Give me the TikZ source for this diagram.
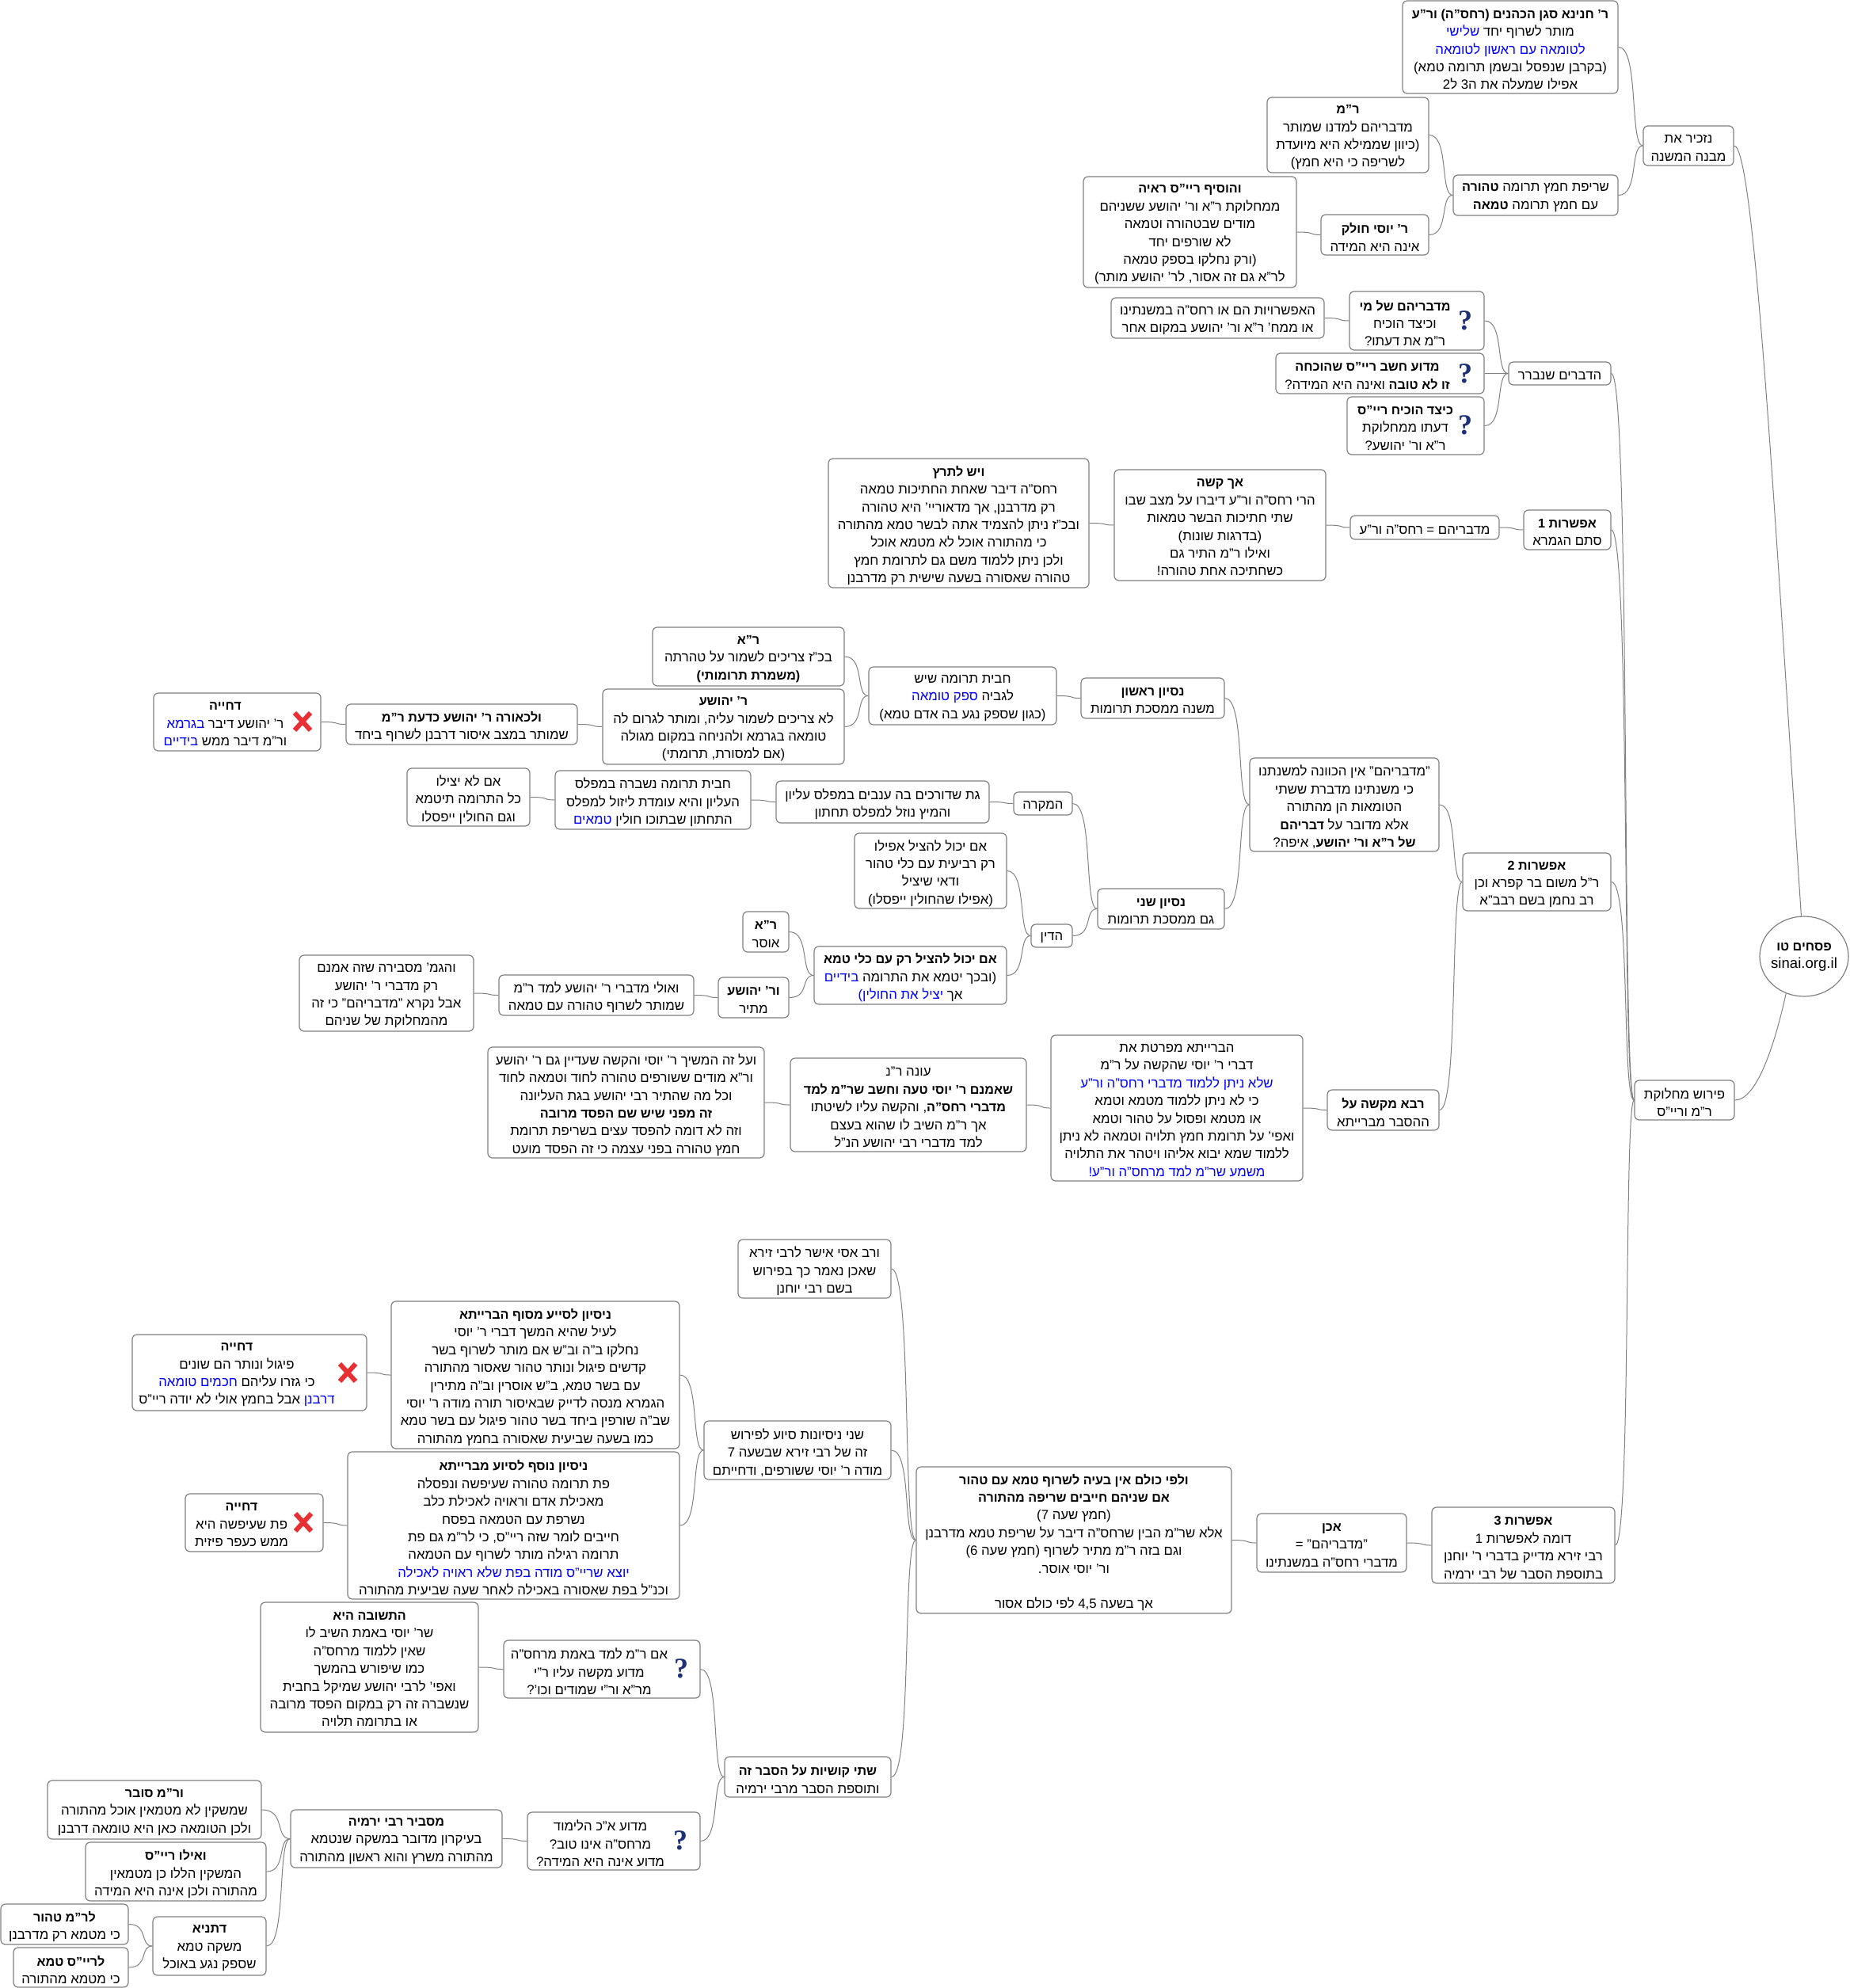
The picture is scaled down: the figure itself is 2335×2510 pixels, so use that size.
\documentclass[tikz,border=0pt]{standalone}
\usepackage{fontspec}
\usepackage{xcolor}
\usetikzlibrary{calc,shapes.geometric}
\setmainfont[Script=Hebrew,BoldFeatures={Scale=0.96}]{Liberation Sans}
\newfontfamily\qmarkfont{Liberation Serif}
\TeXXeTstate=1
\definecolor{qblue}{RGB}{28,48,120}
\definecolor{xred}{RGB}{232,48,52}
\newcommand{\rl}[1]{\beginR#1\endR}
% the list gets reversed on output, so pop comes first
\newcommand{\blu}[1]{\special{color pop}#1\special{color push rgb 0 0 1}}
\newcommand{\iconbox}[7]{\node[mapnode,minimum width={(#4-#2)*1pt},minimum height={(#5-#3)*1pt}] (#1) at ({(#2+#4)/2},{(#3+#5)/2}) {};
	\node[maptext] (#1t) at ([xshift=#6pt,yshift=-3pt]#1.center) {#7};}
\newcommand{\mapbox}[6]{\iconbox{#1}{#2}{#3}{#4}{#5}{0}{#6}}
\tikzset{
	mapnode/.style={draw=black!50,fill=white,line width=1.2pt,rounded corners=6pt,inner sep=0pt},
	maptext/.style={inner sep=0pt,align=center,font=\fontsize{16.8}{22.4}\selectfont},
	qmark/.style={inner sep=0pt,text=qblue,font=\qmarkfont\bfseries\fontsize{36}{36}\selectfont},
	crossmark/.style={draw=xred,line width=6pt},
	link/.style={draw=black!50,line width=1pt}
}
\begin{document}
\begin{tikzpicture}[x=1pt,y=-1pt]
	\useasboundingbox (0,0) rectangle (2335,2510);

	\node[draw=black!50,fill=white,line width=1.2pt,ellipse,inner sep=0pt,minimum width=112pt,minimum height=101pt] (root) at (2278,1207.5) {};
	\node[maptext] (roott) at ([yshift=-1pt]root.center) {\rl{\textbf{פסחים טו}}\\{\fontsize{18.6}{22.4}\selectfont sinai.org.il}};

	% top branch
	\mapbox{mivne}{2075}{159}{2189}{209}{\rl{נזכיר את}\\\rl{מבנה המשנה}}
	\mapbox{chanina}{1771}{1}{2043}{118}{\rl{\textbf{ר' חנינא סגן הכהנים (רחס"ה) ור"ע}}\\\rl{מותר לשרוף יחד \blu{שלישי}}\\\rl{\blu{לטומאה עם ראשון לטומאה}}\\\rl{(בקרבן שנפסל ובשמן תרומה טמא)}\\\rl{אפילו שמעלה את ה3 ל2}}
	\mapbox{sreifa}{1835}{221}{2043}{272}{\rl{שריפת חמץ תרומה \textbf{טהורה}}\\\rl{עם חמץ תרומה \textbf{טמאה}}}
	\mapbox{rmeir}{1600}{123}{1804}{218}{\rl{\textbf{ר"מ}}\\\rl{מדבריהם למדנו שמותר}\\\rl{(כיוון שממילא היא מיועדת}\\\rl{לשריפה כי היא חמץ)}}
	\mapbox{yosi}{1668}{271}{1804}{322}{\rl{\textbf{ר' יוסי חולק}}\\\rl{אינה היא המידה}}
	\mapbox{raaya}{1368}{223}{1637}{363}{\rl{\textbf{והוסיף ריי"ס ראיה}}\\\rl{ממחלוקת ר"א ור' יהושע ששניהם}\\\rl{מודים שבטהורה וטמאה}\\\rl{לא שורפים יחד}\\\rl{(ורק נחלקו בספק טמאה}\\\rl{לר"א גם זה אסור, לר' יהושע מותר)}}

	% the things to clarify
	\mapbox{devarim}{1905}{457}{2034}{486}{\rl{הדברים שנברר}}
	\iconbox{shelmi}{1704}{368}{1874}{442}{-15}{\rl{\textbf{מדבריהם של מי}}\\\rl{וכיצד הוכיח}\\\rl{ר"מ את דעתו?}}
	\mapbox{efsharuyot}{1403}{376}{1672}{427}{\rl{האפשרויות הם או רחס"ה במשנתינו}\\\rl{או ממח' ר"א ור' יהושע במקום אחר}}
	\iconbox{madua}{1611}{446}{1874}{497}{-16}{\rl{\textbf{מדוע חשב ריי"ס שהוכחה}}\\\rl{\textbf{זו לא טובה} ואינה היא המידה?}}
	\iconbox{keitzad}{1701}{501}{1874}{574}{-13}{\rl{\textbf{כיצד הוכיח ריי"ס}}\\\rl{דעתו ממחלוקת}\\\rl{ר"א ור' יהושע?}}
	\node[qmark] (shelmiq) at (1850,405) {?};
	\node[qmark] (maduaq) at (1850,472) {?};
	\node[qmark] (keitzadq) at (1850,537) {?};

	% option 1
	\mapbox{opta}{1924}{644}{2034}{694}{\rl{\textbf{אפשרות 1}}\\\rl{סתם הגמרא}}
	\mapbox{midabera}{1705}{651}{1893}{681}{\rl{מדבריהם = רחס"ה ור"ע}}
	\mapbox{akhkashe}{1407}{593}{1674}{733}{\rl{\textbf{אך קשה}}\\\rl{הרי רחס"ה ור"ע דיברו על מצב שבו}\\\rl{שתי חתיכות הבשר טמאות}\\\rl{(בדרגות שונות)}\\\rl{ואילו ר"מ התיר גם}\\\rl{כשחתיכה אחת טהורה!}}
	\mapbox{letaretz}{1046}{579}{1375}{742}{\rl{\textbf{ויש לתרץ}}\\\rl{רחס"ה דיבר שאחת החתיכות טמאה}\\\rl{רק מדרבנן, אך מדאוריי' היא טהורה}\\\rl{ובכ"ז ניתן להצמיד אתה לבשר טמא מהתורה}\\\rl{כי מהתורה אוכל לא מטמא אוכל}\\\rl{ולכן ניתן ללמוד משם גם לתרומת חמץ}\\\rl{טהורה שאסורה בשעה שישית רק מדרבנן}}

	% option 2
	\mapbox{optb}{1847}{1077}{2034}{1150}{\rl{\textbf{אפשרות 2}}\\\rl{ר"ל משום בר קפרא וכן}\\\rl{רב נחמן בשם רבב"א}}
	\mapbox{kavana}{1578}{957}{1817}{1075}{\rl{"מדבריהם" אין הכוונה למשנתנו}\\\rl{כי משנתינו מדברת ששתי}\\\rl{הטומאות הן מהתורה}\\\rl{אלא מדובר על \textbf{דבריהם}}\\\rl{\textbf{של ר"א ור' יהושע}, איפה?}}
	\mapbox{nisayona}{1365}{856}{1546}{907}{\rl{\textbf{נסיון ראשון}}\\\rl{משנה ממסכת תרומות}}
	\mapbox{chavit}{1097}{842}{1334}{915}{\rl{חבית תרומה שיש}\\\rl{לגביה \blu{ספק טומאה}}\\\rl{(כגון שספק נגע בה אדם טמא)}}
	\mapbox{reliezer}{824}{792}{1066}{866}{\rl{\textbf{ר"א}}\\\rl{בכ"ז צריכים לשמור על טהרתה}\\\rl{\textbf{(משמרת תרומותי)}}}
	\mapbox{ryehoshua}{761}{870}{1066}{965}{\rl{\textbf{ר' יהושע}}\\\rl{לא צריכים לשמור עליה, ומותר לגרום לה}\\\rl{טומאה בגרמא ולהניחה במקום מגולה}\\\rl{(אם למסורת, תרומתי)}}
	\mapbox{lichora}{437}{889}{729}{940}{\rl{\textbf{ולכאורה ר' יהושע כדעת ר"מ}}\\\rl{שמותר במצב איסור דרבנן לשרוף ביחד}}
	\iconbox{dchiyaa}{194}{875}{405}{948}{-15}{\rl{\textbf{דחייה}}\\\rl{ר' יהושע דיבר \blu{בגרמא}}\\\rl{ור"מ דיבר ממש \blu{בידיים}}}
	\mapbox{nisayonb}{1386}{1122}{1546}{1173}{\rl{\textbf{נסיון שני}}\\\rl{גם ממסכת תרומות}}
	\mapbox{mikre}{1280}{1000}{1354}{1029}{\rl{המקרה}}
	\mapbox{gat}{980}{986}{1249}{1039}{\rl{גת שדורכים בה ענבים במפלס עליון}\\\rl{והמיץ נוזל למפלס תחתון}}
	\mapbox{nishbera}{701}{973}{948}{1047}{\rl{חבית תרומה נשברה במפלס}\\\rl{העליון והיא עומדת ליזול למפלס}\\\rl{התחתון שבתוכו חולין \blu{טמאים}}}
	\mapbox{yatzilu}{514}{970}{669}{1043}{\rl{אם לא יצילו}\\\rl{כל התרומה תיטמא}\\\rl{וגם החולין ייפסלו}}
	\mapbox{din}{1302}{1167}{1354}{1196}{\rl{הדין}}
	\mapbox{revi}{1079}{1052}{1271}{1147}{\rl{אם יכול להציל אפילו}\\\rl{רק רביעית עם כלי טהור}\\\rl{ודאי שיציל}\\\rl{(אפילו שהחולין ייפסלו)}}
	\mapbox{klitame}{1028}{1195}{1271}{1268}{\rl{\textbf{אם יכול להציל רק עם כלי טמא}}\\\rl{(ובכך יטמא את התרומה \blu{בידיים}}\\\rl{אך \blu{יציל את החולין)}}}
	\mapbox{oser}{938}{1151}{996}{1202}{\rl{\textbf{ר"א}}\\\rl{אוסר}}
	\mapbox{matir}{907}{1234}{996}{1285}{\rl{\textbf{ור' יהושע}}\\\rl{מתיר}}
	\mapbox{ulai}{630}{1231}{876}{1282}{\rl{ואולי מדברי ר' יהושע למד ר"מ}\\\rl{שמותר לשרוף טהורה עם טמאה}}
	\mapbox{hagemara}{378}{1206}{598}{1302}{\rl{והגמ' מסבירה שזה אמנם}\\\rl{רק מדברי ר' יהושע}\\\rl{אבל נקרא "מדבריהם" כי זה}\\\rl{מהמחלוקת של שניהם}}
	\mapbox{rava}{1676}{1376}{1817}{1427}{\rl{\textbf{רבא מקשה על}}\\\rl{ההסבר מברייתא}}
	\mapbox{braita}{1327}{1307}{1645}{1491}{\rl{הברייתא מפרטת את}\\\rl{דברי ר' יוסי שהקשה על ר"מ}\\\rl{\blu{שלא ניתן ללמוד מדברי רחס"ה ור"ע}}\\\rl{כי לא ניתן ללמוד מטמא וטמא}\\\rl{או מטמא ופסול על טהור וטמא}\\\rl{ואפי' על תרומת חמץ תלויה וטמאה לא ניתן}\\\rl{ללמוד שמא יבוא אליהו ויטהר את התלויה}\\\rl{\blu{משמע שר"מ למד מרחס"ה ור"ע!}}}
	\mapbox{onara}{998}{1336}{1296}{1454}{\rl{עונה ר"נ}\\\rl{\textbf{שאמנם ר' יוסי טעה וחשב שר"מ למד}}\\\rl{\textbf{מדברי רחס"ה}, והקשה עליו לשיטתו}\\\rl{אך ר"מ השיב לו שהוא בעצם}\\\rl{למד מדברי רבי יהושע הנ"ל}}
	\mapbox{hefsed}{616}{1322}{965}{1462}{\rl{ועל זה המשיך ר' יוסי והקשה שעדיין גם ר' יהושע}\\\rl{ור"א מודים ששורפים טהורה לחוד וטמאה לחוד}\\\rl{וכל מה שהתיר רבי יהושע בגת העליונה}\\\rl{\textbf{זה מפני שיש שם הפסד מרובה}}\\\rl{וזה לא דומה להפסד עצים בשריפת תרומת}\\\rl{חמץ טהורה בפני עצמה כי זה הפסד מועט}}

	\mapbox{perush}{2064}{1364}{2190}{1414}{\rl{פירוש מחלוקת}\\\rl{ר"מ וריי"ס}}

	% option 3
	\mapbox{optc}{1808}{1903}{2039}{1999}{\rl{\textbf{אפשרות 3}}\\\rl{דומה לאפשרות 1}\\\rl{רבי זירא מדייק בדברי ר' יוחנן}\\\rl{בתוספת הסבר של רבי ירמיה}}
	\mapbox{akhen}{1587}{1911}{1776}{1985}{\rl{\textbf{אכן}}\\\rl{"מדבריהם" =}\\\rl{מדברי רחס"ה במשנתינו}}
	\mapbox{lefikulam}{1157}{1852}{1555}{2037}{\rl{\textbf{ולפי כולם אין בעיה לשרוף טמא עם טהור}}\\\rl{\textbf{אם שניהם חייבים שריפה מהתורה}}\\\rl{(חמץ שעה 7)}\\\rl{אלא שר"מ הבין שרחס"ה דיבר על שריפת טמא מדרבנן}\\\rl{וגם בזה ר"מ מתיר לשרוף (חמץ שעה 6)}\\\rl{ור' יוסי אוסר.}\\~\\\rl{אך בשעה 4,5 לפי כולם אסור}}
	\mapbox{ravassi}{932}{1565}{1125}{1639}{\rl{ורב אסי אישר לרבי זירא}\\\rl{שאכן נאמר כך בפירוש}\\\rl{בשם רבי יוחנן}}
	\mapbox{siyua}{889}{1794}{1125}{1868}{\rl{שני ניסיונות סיוע לפירוש}\\\rl{זה של רבי זירא שבשעה 7}\\\rl{מודה ר' יוסי ששורפים, ודחייתם}}
	\mapbox{sofbraita}{494}{1643}{858}{1829}{\rl{\textbf{ניסיון לסייע מסוף הברייתא}}\\\rl{לעיל שהיא המשך דברי ר' יוסי}\\\rl{נחלקו ב"ה וב"ש אם מותר לשרוף בשר}\\\rl{קדשים פיגול ונותר טהור שאסור מהתורה}\\\rl{עם בשר טמא, ב"ש אוסרין וב"ה מתירין}\\\rl{הגמרא מנסה לדייק שבאיסור תורה מודה ר' יוסי}\\\rl{שב"ה שורפין ביחד בשר טהור פיגול עם בשר טמא}\\\rl{כמו בשעה שביעית שאסורה בחמץ מהתורה}}
	\iconbox{dchiyab}{167}{1685}{463}{1781}{-16}{\rl{\textbf{דחייה}}\\\rl{פיגול ונותר הם שונים}\\\rl{כי גזרו עליהם \blu{חכמים טומאה}}\\\rl{\blu{דרבנן} אבל בחמץ אולי לא יודה ריי"ס}}
	\mapbox{nosaf}{439}{1833}{858}{2019}{\rl{\textbf{ניסיון נוסף לסיוע מברייתא}}\\\rl{פת תרומה טהורה שעיפשה ונפסלה}\\\rl{מאכילת אדם וראויה לאכילת כלב}\\\rl{נשרפת עם הטמאה בפסח}\\\rl{חייבים לומר שזה ריי"ס, כי לר"מ גם פת}\\\rl{תרומה רגילה מותר לשרוף עם הטמאה}\\\rl{\blu{יוצא שריי"ס מודה בפת שלא ראויה לאכילה}}\\\rl{וכנ"ל בפת שאסורה באכילה לאחר שעה שביעית מהתורה}}
	\iconbox{dchiyac}{234}{1886}{408}{1959}{-16}{\rl{\textbf{דחייה}}\\\rl{פת שעיפשה היא}\\\rl{ממש כעפר פיזית}}
	\mapbox{kushiyot}{915}{2218}{1125}{2269}{\rl{\textbf{שתי קושיות על הסבר זה}}\\\rl{ותוספת הסבר מרבי ירמיה}}
	\iconbox{limad}{636}{2071}{884}{2144}{-16}{\rl{אם ר"מ למד באמת מרחס"ה}\\\rl{מדוע מקשה עליו ר"י}\\\rl{מר"א ור"י שמודים וכו'?}}
	\mapbox{teshuva}{329}{2023}{604}{2187}{\rl{\textbf{התשובה היא}}\\\rl{שר' יוסי באמת השיב לו}\\\rl{שאין ללמוד מרחס"ה}\\\rl{כמו שיפורש בהמשך}\\\rl{ואפי' לרבי יהושע שמיקל בחבית}\\\rl{שנשברה זה רק במקום הפסד מרובה}\\\rl{או בתרומה תלויה}}
	\iconbox{limud}{666}{2288}{884}{2361}{-17}{\rl{מדוע א"כ הלימוד}\\\rl{מרחס"ה אינו טוב?}\\\rl{מדוע אינה היא המידה?}}
	\mapbox{yirmiya}{367}{2285}{634}{2358}{\rl{\textbf{מסביר רבי ירמיה}}\\\rl{בעיקרון מדובר במשקה שנטמא}\\\rl{מהתורה משרץ והוא ראשון מהתורה}}
	\mapbox{sover}{60}{2248}{330}{2322}{\rl{\textbf{ור"מ סובר}}\\\rl{שמשקין לא מטמאין אוכל מהתורה}\\\rl{ולכן הטומאה כאן היא טומאה דרבנן}}
	\mapbox{veilu}{108}{2326}{336}{2400}{\rl{\textbf{ואילו ריי"ס}}\\\rl{המשקין הללו כן מטמאין}\\\rl{מהתורה ולכן אינה היא המידה}}
	\mapbox{detanya}{193}{2420}{336}{2494}{\rl{\textbf{דתניא}}\\\rl{משקה טמא}\\\rl{שספק נגע באוכל}}
	\mapbox{tahor}{1}{2404}{162}{2455}{\rl{\textbf{לר"מ טהור}}\\\rl{כי מטמא רק מדרבנן}}
	\mapbox{tame}{17}{2459}{162}{2509}{\rl{\textbf{לריי"ס טמא}}\\\rl{כי מטמא מהתורה}}
	\node[qmark] (limadq) at (860,2107) {?};
	\node[qmark] (limudq) at (859,2324) {?};

	\foreach \cx/\cy in {382/911, 439/1733, 383/1922}
	{
		\draw[crossmark] (\cx-10,\cy-11) -- (\cx+10,\cy+11);
		\draw[crossmark] (\cx+10,\cy-11) -- (\cx-10,\cy+11);
	}

	% links, child then parent
	\foreach \a/\b in {chanina/mivne, sreifa/mivne, rmeir/sreifa, yosi/sreifa, raaya/yosi,
		shelmi/devarim, madua/devarim, keitzad/devarim, efsharuyot/shelmi,
		devarim/perush, opta/perush, optb/perush, optc/perush,
		midabera/opta, akhkashe/midabera, letaretz/akhkashe,
		kavana/optb, rava/optb, nisayona/kavana, nisayonb/kavana, chavit/nisayona,
		reliezer/chavit, ryehoshua/chavit, lichora/ryehoshua, dchiyaa/lichora,
		mikre/nisayonb, din/nisayonb, gat/mikre, nishbera/gat, yatzilu/nishbera,
		revi/din, klitame/din, oser/klitame, matir/klitame, ulai/matir, hagemara/ulai,
		braita/rava, onara/braita, hefsed/onara,
		akhen/optc, lefikulam/akhen, ravassi/lefikulam, siyua/lefikulam, kushiyot/lefikulam,
		sofbraita/siyua, nosaf/siyua, dchiyab/sofbraita, dchiyac/nosaf,
		limad/kushiyot, limud/kushiyot, teshuva/limad, yirmiya/limud,
		sover/yirmiya, veilu/yirmiya, detanya/yirmiya, tahor/detanya, tame/detanya}
	{
		\draw[link] let \p1=(\a.east), \p2=(\b.west) in (\p1) .. controls ({\x1+.85*(\x2-\x1)},\y1) and ({\x1+.45*(\x2-\x1)},\y2) .. (\p2);
	}
	\draw[link] (mivne.east) .. controls (2215,184) and (2240,640) .. (root.94);
	\draw[link] (perush.east) .. controls (2220,1389) and (2243,1310) .. (root.244);
\end{tikzpicture}
\end{document}
